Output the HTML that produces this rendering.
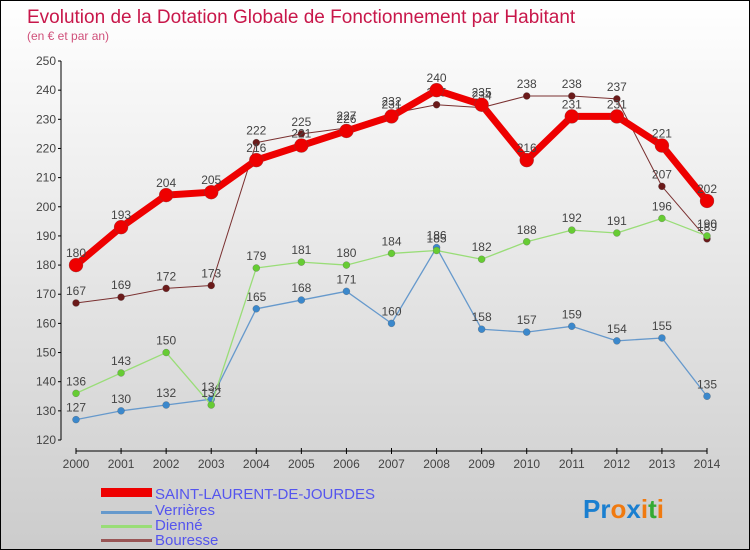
<!DOCTYPE html>
<html><head><meta charset="utf-8"><style>
body{margin:0}
#c{width:748px;height:548px;border:1px solid #000;background:linear-gradient(#fff,#ccc);position:relative;font-family:"Liberation Sans",sans-serif;overflow:hidden}
</style></head><body>
<div id="c">
<svg id="s" width="748" height="548" xmlns="http://www.w3.org/2000/svg" style="position:absolute;left:0;top:0">
<text x="26" y="22" font-size="19" fill="#c8174a">Evolution de la Dotation Globale de Fonctionnement par Habitant</text>
<text x="26" y="39" font-size="12" fill="#d0507a">(en € et par an)</text>
<g id="axes"></g><g id="series"></g>
<g>
<rect x="100" y="487" width="51" height="9" fill="#e00"/>
<text x="154" y="498" font-size="15" fill="#5555ee">SAINT-LAURENT-DE-JOURDES</text>
<rect x="100" y="510" width="51" height="3" fill="#6699cc"/>
<text x="154" y="514" font-size="15" fill="#5555ee">Verrières</text>
<rect x="100" y="524" width="51" height="3" fill="#99dd77"/>
<text x="154" y="529" font-size="15" fill="#5555ee">Dienné</text>
<rect x="100" y="538" width="51" height="3" fill="#995555"/>
<text x="154" y="544" font-size="15" fill="#5555ee">Bouresse</text>
</g>
<text x="582" y="517" font-size="26" font-weight="bold"><tspan fill="#1a7fd0">Pr</tspan><tspan fill="#f07a10">o</tspan><tspan fill="#1a7fd0">x</tspan><tspan fill="#f07a10">i</tspan><tspan fill="#33aa33">t</tspan><tspan fill="#f07a10">i</tspan></text>
</svg></div>
<script>
const years=[2000,2001,2002,2003,2004,2005,2006,2007,2008,2009,2010,2011,2012,2013,2014];
const yTicks=[120,130,140,150,160,170,180,190,200,210,220,230,240,250];
const saint=[180,193,204,205,216,221,226,231,240,235,216,231,231,221,202];
const verrieres=[127,130,132,134,165,168,171,160,186,158,157,159,154,155,135];
const dienne=[136,143,150,132,179,181,180,184,185,182,188,192,191,196,190];
const bouresse=[167,169,172,173,222,225,227,232,235,234,238,238,237,207,189];
const NS="http://www.w3.org/2000/svg";
function X(i){return 75+i*(631/14);}
function Y(v){return 439-(v-120)*(379/130);}
function mk(t,a,p){const e=document.createElementNS(NS,t);for(const k in a)e.setAttribute(k,a[k]);p.appendChild(e);return e;}
const ax=document.getElementById('axes');
let yl=mk('line',{x1:60,y1:Y(250),x2:60,y2:Y(120),stroke:'#000'},ax);


let xl=mk('line',{x1:X(0),y1:450,x2:X(14),y2:450,stroke:'#000'},ax);


yTicks.forEach(v=>{
 mk('line',{x1:57,y1:Y(v),x2:60,y2:Y(v),stroke:'#000'},ax);
 const t=mk('text',{x:55,y:Y(v)+4,'font-size':12,'text-anchor':'end',fill:'#444'},ax);t.textContent=v;
 
 
});
years.forEach((y,i)=>{
 mk('line',{x1:X(i),y1:447,x2:X(i),y2:453,stroke:'#000'},ax);
 const t=mk('text',{x:X(i),y:467,'font-size':12,'text-anchor':'middle',fill:'#444'},ax);t.textContent=y;
 
 
});
const sg=document.getElementById('series');
function series(name,data,col,dot,w,r){
 const g=mk('g',{},sg);
 
 
 const l=mk('polyline',{points:data.map((v,i)=>X(i)+','+Y(v)).join(' '),fill:'none',stroke:col,'stroke-width':w,'stroke-linejoin':'round'},g);
 
 
 data.forEach((v,i)=>{
  const c=mk('circle',{cx:X(i),cy:Y(v),r:r,fill:dot,stroke:'#5558',"stroke-width":0.5},g);
  
  
  const t=mk('text',{x:X(i),y:Y(v)-8,'font-size':12,'text-anchor':'middle',fill:'#444'},g);t.textContent=v;
  
  
 });
}
series('bouresse',bouresse,'#7a3030','#6b1a1a',1,3.5);
series('verrieres',verrieres,'#6699cc','#3b88cc',1.3,3.5);
series('dienne',dienne,'#99dd77','#66cc33',1.3,3.5);
series('saint-laurent',saint,'#ee0000','#ee0000',7,7);
</script>
</body></html>
